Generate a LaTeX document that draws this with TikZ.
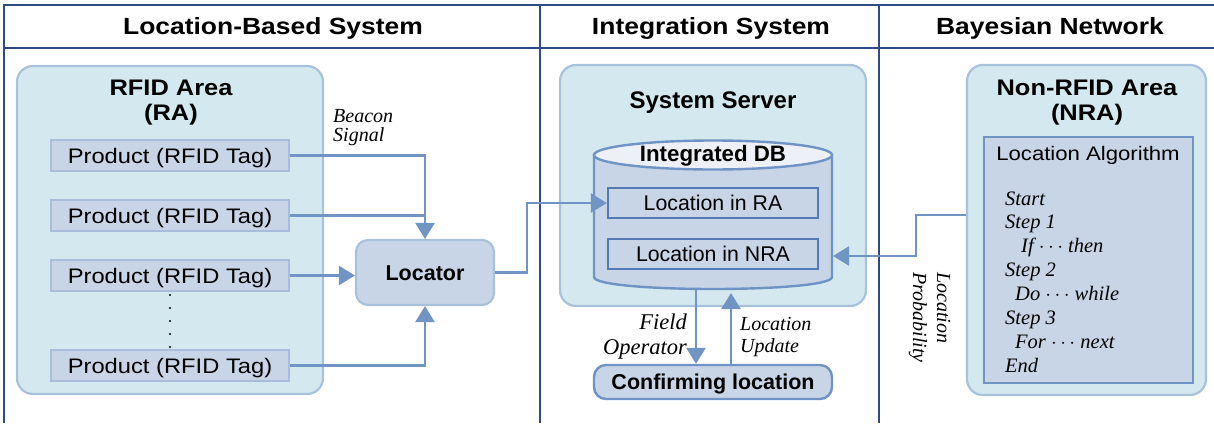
\documentclass[tikz,border=0pt]{standalone}
\usepackage{fontspec}
\setmainfont{Liberation Serif}
\setsansfont{Liberation Sans}
\newfontfamily\wsans[FakeStretch=1.13]{Liberation Sans}
\usetikzlibrary{arrows.meta}
\definecolor{areafill}{HTML}{D3E9EF}
\definecolor{areaborder}{HTML}{A8C2DC}
\definecolor{boxfill}{HTML}{C8D5E6}
\definecolor{prodborder}{HTML}{A9BDDA}
\definecolor{arrowblue}{HTML}{7094C4}
\definecolor{frameblue}{HTML}{2D4C85}
\definecolor{dbborder}{HTML}{5479B3}
\definecolor{cylborder}{HTML}{6F93C4}
\definecolor{cyltopfill}{HTML}{EDF1F7}
\tikzset{
  frameln/.style={draw=frameblue, line width=1.6pt},
  area/.style={draw=areaborder, fill=areafill, line width=2.2pt, rounded corners=16pt, inner sep=0pt},
  hdr/.style={font=\wsans\bfseries\fontsize{23.4}{28}\selectfont, inner sep=0pt},
  ttl/.style={font=\wsans\bfseries\fontsize{22.5}{27}\selectfont, inner sep=0pt},
  prod/.style={text height=15.1pt, text depth=0pt, fill=boxfill, draw=prodborder, line width=1.4pt, inner sep=0pt,
    minimum width=238, minimum height=31, font=\wsans\fontsize{21}{25}\selectfont},
  locbox/.style={text height=15.4pt, text depth=0pt, fill=boxfill, draw=areaborder, line width=2.2pt, rounded corners=12pt,
    inner sep=0pt, minimum width=138, minimum height=65, font=\sffamily\bfseries\fontsize{21.5}{25}\selectfont},
  dbbox/.style={text height=15.3pt, text depth=0pt, fill=boxfill, draw=dbborder, line width=2.4pt, inner sep=0pt,
    minimum width=210, minimum height=30, font=\sffamily\fontsize{21.3}{25}\selectfont},
  confbox/.style={text height=15.4pt, text depth=0pt, fill=boxfill, draw=cylborder, line width=2.4pt, rounded corners=12pt,
    inner sep=0pt, minimum width=238, minimum height=34, font=\sffamily\bfseries\fontsize{21.5}{25}\selectfont},
  algbox/.style={fill=boxfill, draw=cylborder, line width=2.4pt, inner sep=0pt},
  itl/.style={font=\itshape\fontsize{20}{24}\selectfont, inner sep=0pt},
  itlb/.style={font=\itshape\fontsize{22.5}{26}\selectfont, inner sep=0pt},
  steptxt/.style={font=\itshape\fontsize{20.5}{24}\selectfont, inner sep=0pt, anchor=base west},
  ln/.style={draw=arrowblue, line width=2.6pt},
  arr/.style={ln, -{Triangle[length=16pt,width=19pt]}},
}
\begin{document}
\begin{tikzpicture}[x=1pt,y=-1pt]
\useasboundingbox (0,0) rectangle (1214,423);
% frame
\draw[frameln] (4,423) -- (4,5) -- (1214,5);
\draw[frameln] (4,48) -- (1214,48);
\draw[frameln] (540,5) -- (540,423);
\draw[frameln] (879,5) -- (879,423);
\node[hdr, anchor=base] (h1) at (273,34) {Location-Based System};
\node[hdr, anchor=base] (h2) at (711,34) {Integration System};
\node[hdr, anchor=base] (h3) at (1050,34) {Bayesian Network};

% RFID area
\node[area, minimum width=306, minimum height=328] (ra) at (170,230) {};
\node[ttl, anchor=base] (rat1) at (171,95) {RFID Area};
\node[ttl, anchor=base] (rat2) at (171,120) {(RA)};
\node[prod] (p1) at (170,155.5) {Product (RFID Tag)};
\node[prod] (p2) at (170,215.5) {Product (RFID Tag)};
\node[prod] (p3) at (170,275.5) {Product (RFID Tag)};
\node[prod] (p4) at (170,365.5) {Product (RFID Tag)};
\foreach \yy in {295,308,321,334,347} \fill (170,\yy) circle (1.2pt);

\node[locbox] (loc) at (425,272.5) {Locator};
\node[itl, anchor=base west] (bs1) at (333,122) {Beacon};
\node[itl, anchor=base west] (bs2) at (333,141) {Signal};

% System server
\node[area, minimum width=306, minimum height=241] (srv) at (713,185.5) {};
\node[font=\sffamily\bfseries\fontsize{24}{28}\selectfont, inner sep=0pt, anchor=base] (srvt) at (713,108) {System Server};
\path[draw=cylborder, fill=boxfill, line width=2.4pt] (594,155) -- (594,277) .. controls (594,293) and (832,293) .. (832,277) -- (832,155) -- cycle;
\draw[draw=cylborder, fill=cyltopfill, line width=2.4pt] (713,155) ellipse [x radius=119, y radius=14.5];
\node[font=\sffamily\bfseries\fontsize{22.3}{26}\selectfont, inner sep=0pt, anchor=base] (dbt) at (713,161) {Integrated DB};
\node[dbbox] (lra) at (713,203) {Location in RA};
\node[dbbox] (lnra) at (713,254) {Location in NRA};
\node[confbox] (conf) at (713,382) {Confirming location};
\node[itlb, anchor=base east] (fo1) at (687,329) {Field};
\node[itlb, anchor=base east] (fo2) at (687,354) {Operator};
\node[itl, anchor=base west] (lu1) at (740,330) {Location};
\node[itl, anchor=base west] (lu2) at (740,352) {Update};

% NRA
\node[area, minimum width=239, minimum height=330] (nra) at (1086.5,230) {};
\node[ttl, anchor=base] (nrat1) at (1087,95) {Non-RFID Area};
\node[ttl, anchor=base] (nrat2) at (1087,120) {(NRA)};
\node[algbox, minimum width=209, minimum height=246] (alg) at (1088.5,260) {};
\node[font=\wsans\fontsize{19.6}{24}\selectfont, inner sep=0pt, anchor=base] (algt) at (1088,160) {Location Algorithm};
\node[steptxt] (s1) at (1005,205) {Start};
\node[steptxt] (s2) at (1005,228) {Step 1};
\node[steptxt] (s3) at (1021,252) {If $\cdots$ then};
\node[steptxt] (s4) at (1005,276) {Step 2};
\node[steptxt] (s5) at (1015,300) {Do $\cdots$ while};
\node[steptxt] (s6) at (1005,324) {Step 3};
\node[steptxt] (s7) at (1015,348) {For $\cdots$ next};
\node[steptxt] (s8) at (1005,372) {End};
\node[itl, rotate=-90, anchor=base west] (lp1) at (937,272) {Location};
\node[itl, rotate=-90, anchor=base west] (lp2) at (913,272) {Probability};

% connectors
\draw[arr] (p1.east) -| (loc.north);
\draw[ln] (p2.east) -- (p2.east -| loc.north);
\draw[arr] (p3.east) -- (p3.east -| loc.west);
\draw[arr] (p4.east) -| (loc.south);
\coordinate (k1) at (527,272.5);
\draw[arr] (loc.east) -- (k1) |- (lra.west);
\coordinate (k2) at (916,215);
\coordinate (cylr) at (833,256);
\draw[arr] (nra.west |- k2) -- (k2) |- (cylr);
\coordinate (fop) at (696,288);
\coordinate (lup) at (731,293);
\draw[arr] (fop) -- (fop |- conf.north);
\draw[arr] (lup |- conf.north) -- (lup);
\end{tikzpicture}
\end{document}
